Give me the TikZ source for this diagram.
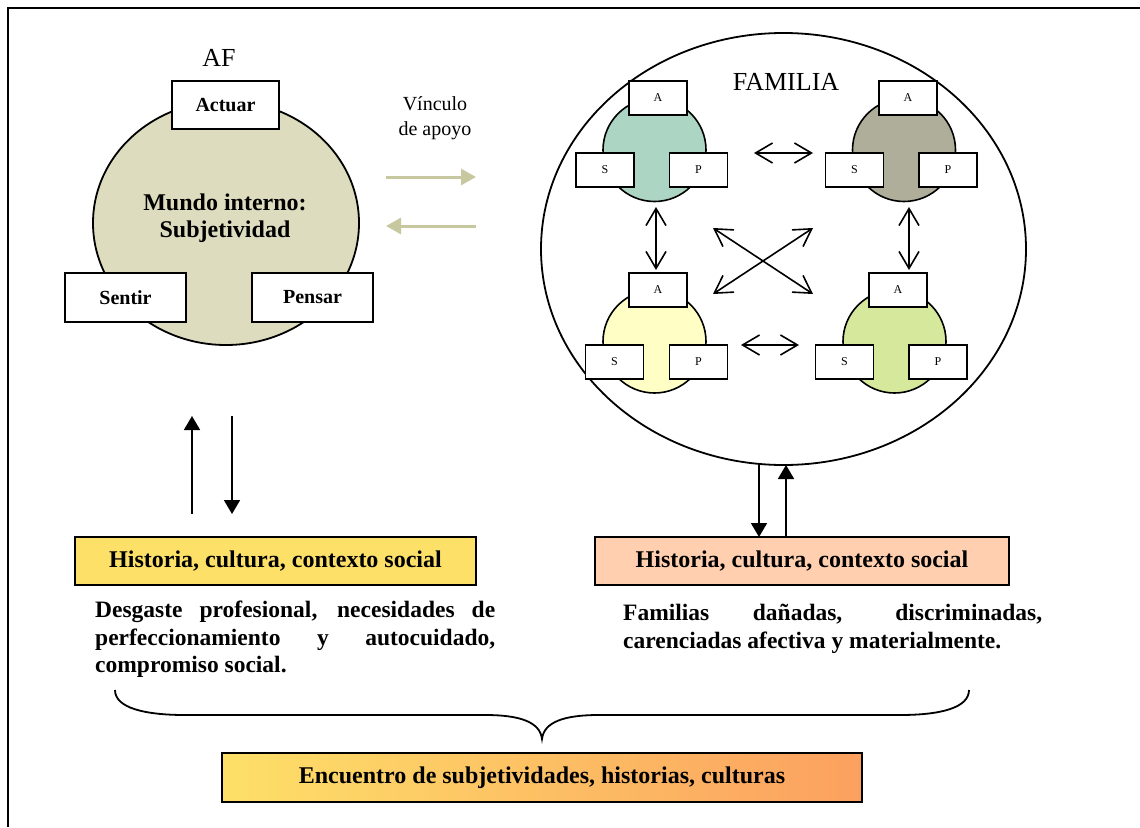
\documentclass[tikz,border=0pt]{standalone}
\usepackage{fontspec}
\setmainfont{Liberation Serif}
\usetikzlibrary{arrows.meta,shapes.geometric}

\definecolor{mundofill}{RGB}{221,220,190}
\definecolor{vinculo}{RGB}{200,200,160}
\definecolor{mint}{RGB}{172,213,195}
\definecolor{taupe}{RGB}{175,174,154}
\definecolor{paleyellow}{RGB}{255,255,197}
\definecolor{lightgreen}{RGB}{213,232,156}
\definecolor{boxyellow}{RGB}{253,224,104}
\definecolor{boxpeach}{RGB}{255,207,175}
\definecolor{boxorange}{RGB}{252,160,96}

\tikzset{
  bigbox/.style={draw, fill=white, line width=1.8pt, inner sep=0pt,
    font=\fontsize{20}{24}\selectfont\bfseries},
  sbox/.style={draw, fill=white, line width=1.6pt, inner sep=0pt,
    minimum width=58pt, minimum height=34pt,
    font=\fontsize{12}{14}\selectfont},
  member/.style={circle, draw, line width=1.6pt, minimum size=103pt, inner sep=0pt},
  ctxbox/.style={draw, line width=1.6pt, inner sep=0pt,
    minimum width=401pt, minimum height=48pt,
    font=\fontsize{24}{28}\selectfont\bfseries},
  duo/.style={line width=1.6pt, {Straight Barb[length=17pt,width=20pt]}-{Straight Barb[length=17pt,width=20pt]}},
  flow/.style={line width=1.8pt, -{Triangle[length=14pt,width=16pt]}},
  support/.style={draw=vinculo, line width=3pt, -{Triangle[length=15pt,width=16pt]}, color=vinculo},
  para/.style={inner sep=0pt, align=left, font=\fontsize{23.5}{27.5}\selectfont\bfseries},
}

\begin{document}
\begin{tikzpicture}[x=1pt,y=-1pt]
\useasboundingbox (0,0) rectangle (1140,827);

% outer frame (top and left edges)
\coordinate (frameBL) at (8,827);
\coordinate (frameTL) at (8,8);
\coordinate (frameTR) at (1140,8);
\draw[line width=2pt] (frameBL) -- (frameTL) -- (frameTR);

% ---------- AF: inner world ----------
\node[ellipse, draw, fill=mundofill, line width=1.8pt, minimum width=266pt,
      minimum height=244pt, inner sep=0pt] (mundo) at (226,223) {};
\node[font=\fontsize{24}{27.5}\selectfont\bfseries, align=center] (mundotxt)
  at (225,218) {Mundo interno:\\Subjetividad};
\node[font=\fontsize{26}{30}\selectfont] (af) at (219,58) {AF};
\node[bigbox, minimum width=107pt, minimum height=48pt] (actuar) at (225.5,105) {Actuar};
\node[bigbox, minimum width=121pt, minimum height=49pt] (sentir) at (125.5,297.5) {Sentir};
\node[bigbox, minimum width=121pt, minimum height=49pt] (pensar) at (312.5,297.5) {Pensar};

% ---------- support link ----------
\node[font=\fontsize{20}{25}\selectfont, align=center] (vinc) at (435,118) {Vínculo\\de apoyo};
\coordinate (sA) at (386,177);
\coordinate (sB) at (476,177);
\coordinate (sC) at (476,226);
\coordinate (sD) at (386,226);
\draw[support] (sA) -- (sB);
\draw[support] (sC) -- (sD);

% ---------- FAMILIA ----------
\node[ellipse, draw, line width=1.8pt, minimum width=485pt, minimum height=432pt,
      inner sep=0pt] (familia) at (783.5,249) {};
\node[font=\fontsize{26}{30}\selectfont] (famtxt) at (786,82) {FAMILIA};

% members
\node[member, fill=mint] (m1) at (654.5,150) {};
\node[sbox] (m1a) at (658,98) {A};
\node[sbox] (m1s) at (605,170) {S};
\node[sbox] (m1p) at (698.5,170) {P};

\node[member, fill=taupe] (m2) at (904,150) {};
\node[sbox] (m2a) at (908,98) {A};
\node[sbox] (m2s) at (854.5,170) {S};
\node[sbox] (m2p) at (948,170) {P};

\node[member, fill=paleyellow] (m3) at (654.5,341.5) {};
\node[sbox] (m3a) at (658,290) {A};
\node[sbox] (m3s) at (614.5,362) {S};
\node[sbox] (m3p) at (698.5,362) {P};

\node[member, fill=lightgreen] (m4) at (894.5,341.5) {};
\node[sbox] (m4a) at (898,290) {A};
\node[sbox] (m4s) at (844.5,362) {S};
\node[sbox] (m4p) at (938,362) {P};

% relations between members
\coordinate (h1a) at (754,153);  \coordinate (h1b) at (813,153);
\coordinate (h2a) at (741,345);  \coordinate (h2b) at (799,345);
\coordinate (v1a) at (656,207);  \coordinate (v1b) at (656,270);
\coordinate (v2a) at (909,207);  \coordinate (v2b) at (909,270);
\coordinate (d1a) at (713,228);  \coordinate (d1b) at (813,294);
\coordinate (d2a) at (713,294);  \coordinate (d2b) at (813,228);
\draw[duo] (h1a) -- (h1b);
\draw[duo] (h2a) -- (h2b);
\draw[duo] (v1a) -- (v1b);
\draw[duo] (v2a) -- (v2b);
\draw[duo] (d1a) -- (d1b);
\draw[duo] (d2a) -- (d2b);

% ---------- context boxes ----------
\node[ctxbox, fill=boxyellow] (ctxL) at (275.5,561) {Historia, cultura, contexto social};
\node[ctxbox, fill=boxpeach, minimum width=414pt] (ctxR) at (802,561) {Historia, cultura, contexto social};

\coordinate (upL0) at (192,514);  \coordinate (upL1) at (192,416);
\coordinate (dnL0) at (232,416);  \coordinate (dnL1) at (232,514);
\draw[flow] (upL0) -- (upL1);
\draw[flow] (dnL0) -- (dnL1);

\coordinate (dnR0) at (759,465);  \coordinate (dnR1) at (759,537);
\coordinate (upR0) at (786,537);  \coordinate (upR1) at (786,465);
\draw[flow] (dnR0) -- (dnR1);
\draw[flow] (upR0) -- (upR1);

\node[para, anchor=north west] (descL) at (95,601) {%
  \makebox[400pt][s]{Desgaste profesional, necesidades de}\\
  \makebox[400pt][s]{perfeccionamiento y autocuidado,}\\
  compromiso social.};
\node[para, anchor=north west] (descR) at (623,604) {%
  \makebox[419pt][s]{Familias dañadas, discriminadas,}\\
  carenciadas afectiva y materialmente.};

% ---------- brace and encounter ----------
\coordinate (brL) at (115,690);
\coordinate (brR) at (969,690);
\coordinate (brTip) at (542,739);
\draw[line width=1.8pt]
  (brL) .. controls (115,708) and (145,715) .. (185,715)
  -- (485,715) .. controls (520,715) and (540,722) .. (brTip)
  .. controls (544,722) and (564,715) .. (599,715)
  -- (900,715) .. controls (940,715) and (969,708) .. (brR);

\node[draw, line width=1.6pt, left color=boxyellow, right color=boxorange,
      minimum width=640pt, minimum height=49pt, inner sep=0pt,
      font=\fontsize{24}{28}\selectfont\bfseries] (encuentro) at (542,777.5)
  {Encuentro de subjetividades, historias, culturas};
\end{tikzpicture}
\end{document}
